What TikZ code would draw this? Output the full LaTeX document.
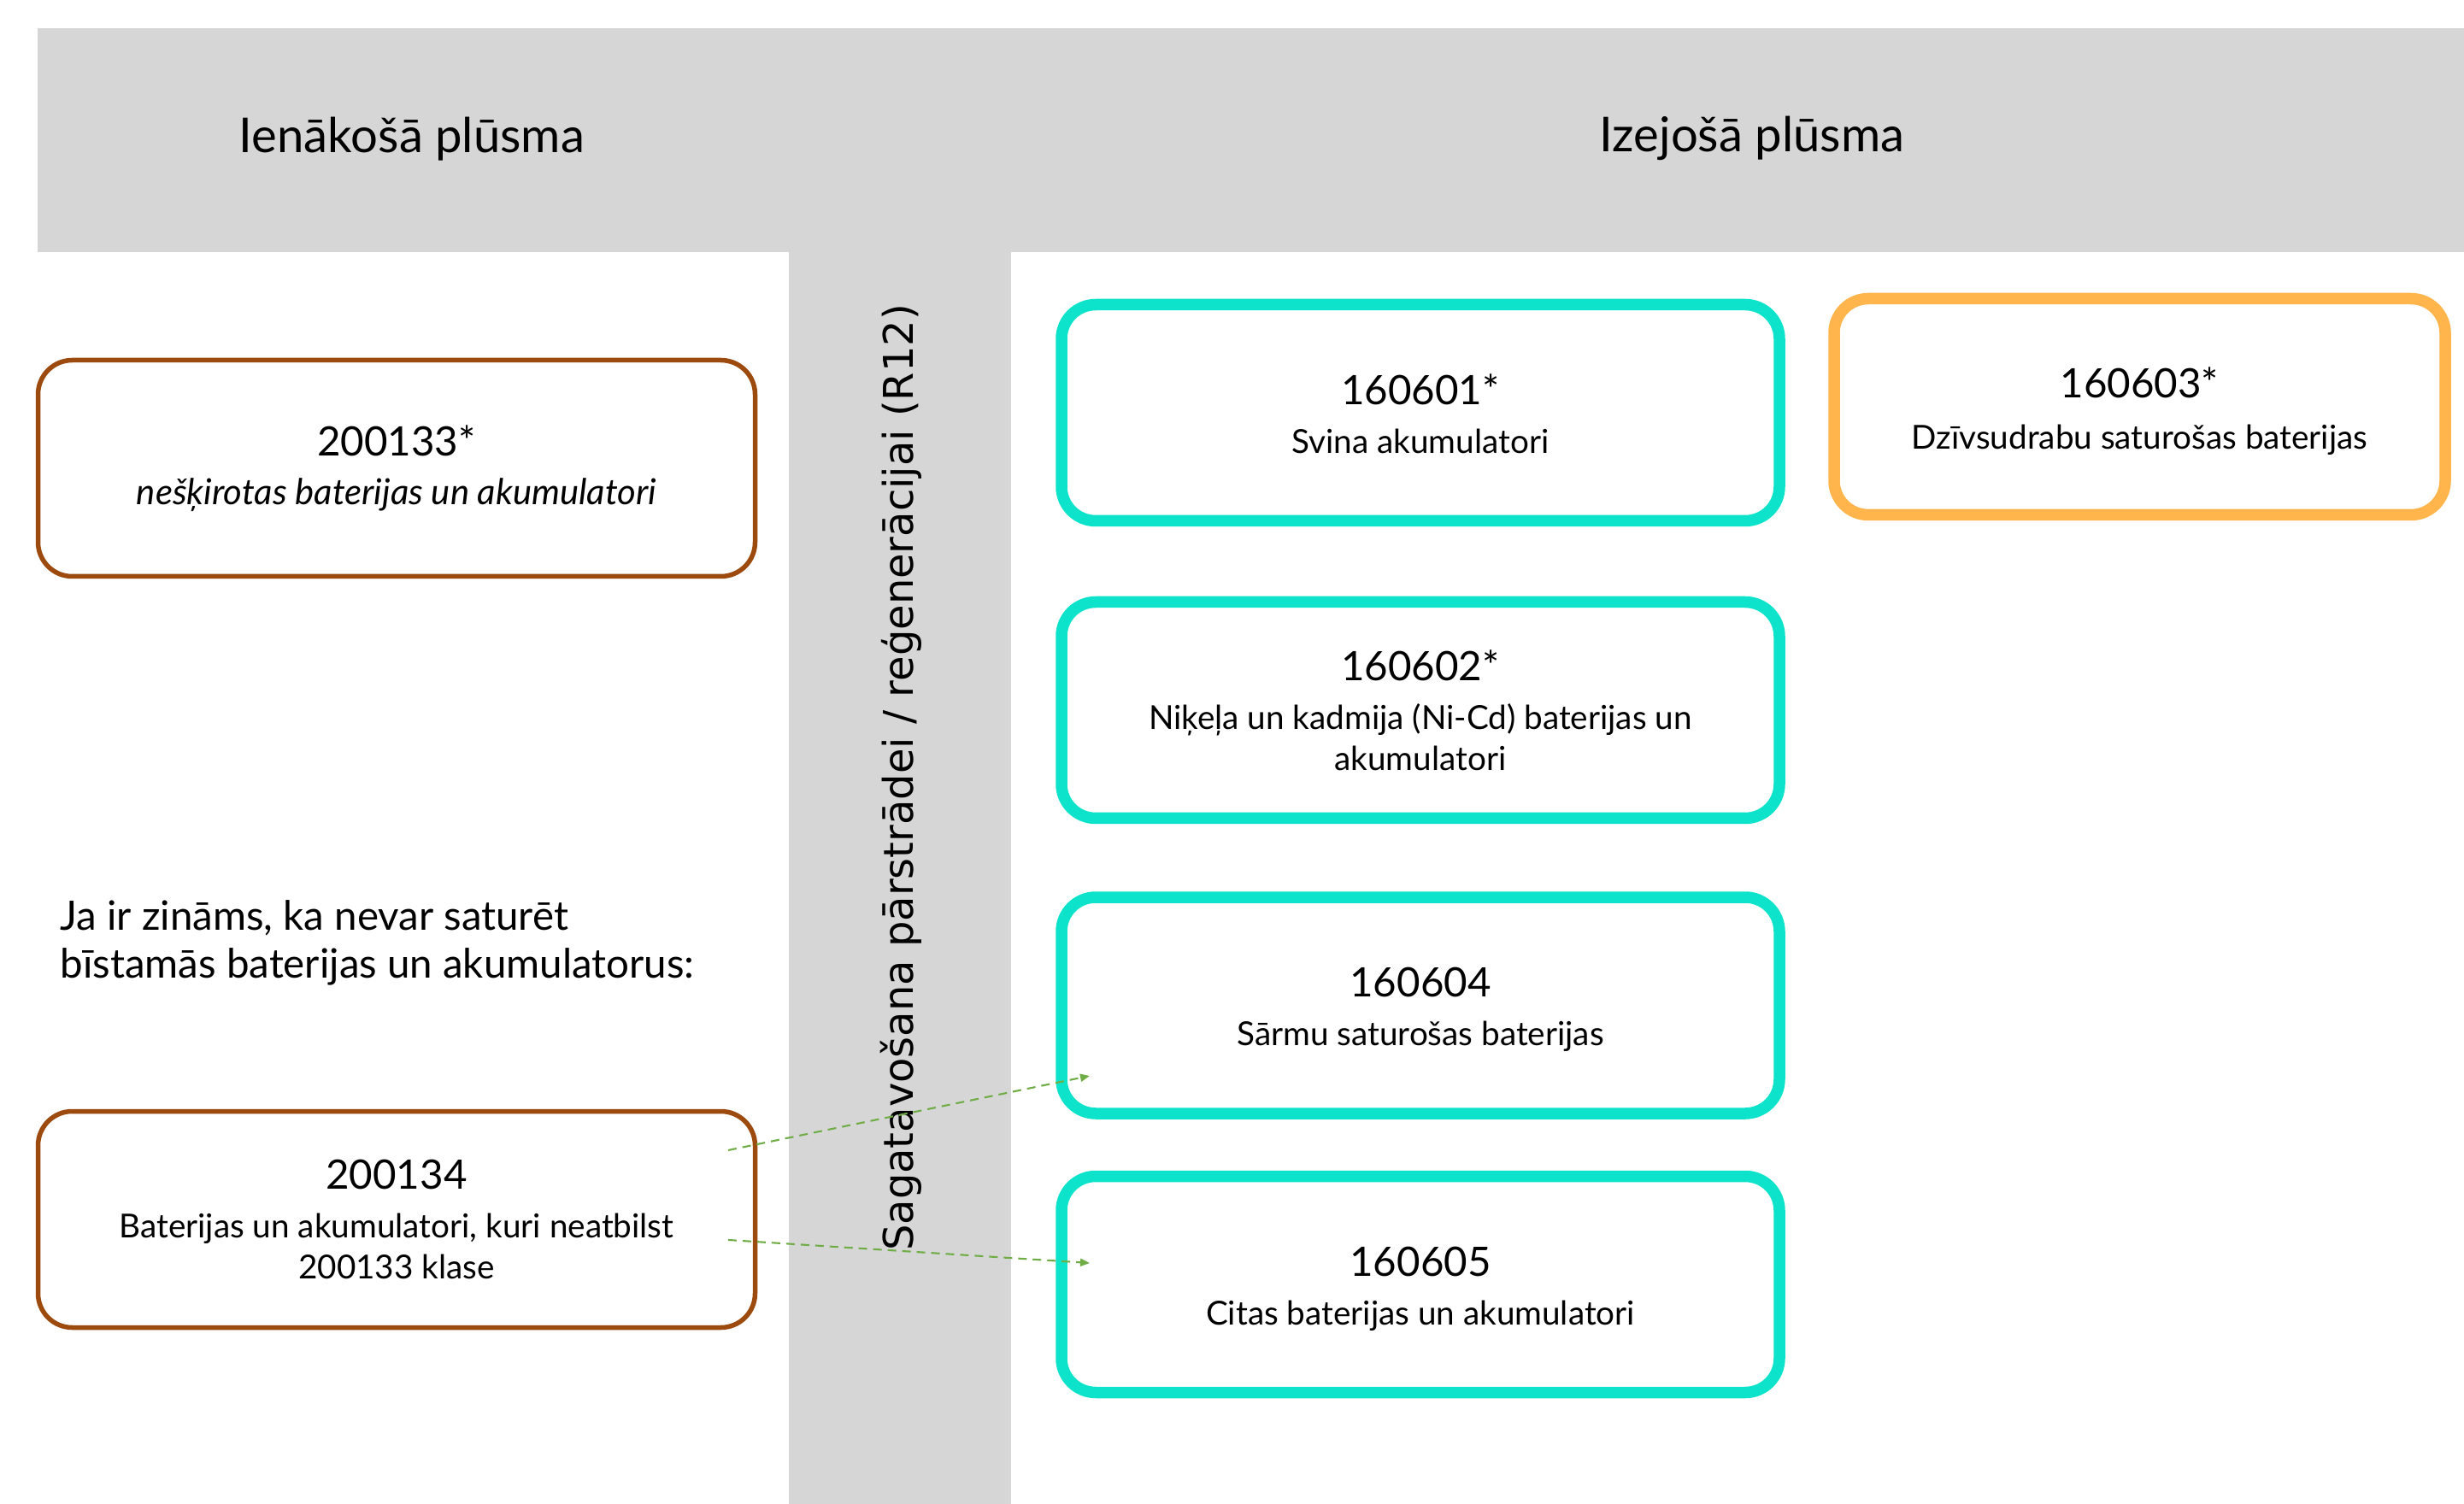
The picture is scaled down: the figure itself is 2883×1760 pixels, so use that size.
\documentclass[tikz,border=0pt]{standalone}
\usepackage{fontspec}
\setmainfont{Lato}
\newfontfamily\sidefont{DejaVu Sans}
\usetikzlibrary{positioning}
\usetikzlibrary{arrows.meta}

\definecolor{bandgray}{HTML}{D6D6D6}
\definecolor{inbrown}{HTML}{9C4A0E}
\definecolor{outteal}{HTML}{0CE3CA}
\definecolor{outorange}{HTML}{FFB54C}
\definecolor{flowgreen}{HTML}{70AD47}

\newcommand{\wastecode}[2][2.6pt]{{\fontsize{13.5pt}{16pt}\selectfont #2}\\[#1]}

\begin{document}
\begin{tikzpicture}[
    x=0.1mm, y=-0.1mm,
    every node/.style={align=center, font=\fontsize{11pt}{13.6pt}\selectfont},
    inbox/.style={draw=inbrown, line width=0.55mm, rounded corners=4mm, minimum width=83.9mm, minimum height=25.3mm},
    outbox/.style={draw=outteal, line width=1.35mm, rounded corners=4mm, minimum width=84mm, minimum height=25.3mm},
    hazbox/.style={draw=outorange, line width=1.35mm, rounded corners=4mm, minimum width=71.5mm, minimum height=25.3mm},
    header/.style={font=\fontsize{16pt}{19pt}\selectfont},
    flow/.style={draw=flowgreen, line width=0.6pt, dash pattern=on 1mm off 0.7mm, -{Triangle[length=1.1mm, width=0.9mm]}}
  ]
  \useasboundingbox (0,0) rectangle (2883,1760);

  % grey band and column
  \fill[bandgray] (44,33) rectangle (2883,295);
  \fill[bandgray] (923,295) rectangle (1183,1760);

  \node[header] (in) at (482,163) {Ienākošā plūsma};
  \node[header] (out) at (2050,162) {Izejošā plūsma};
  \node[rotate=90, font=\sidefont\fontsize{13.65pt}{16pt}\selectfont] (prep) at (1054,910) {Sagatavošana pārstrādei / reģenerācijai (R12)};

  % incoming
  \node[inbox] (w200133) at (464,548) {\wastecode{200133*}{\fontsize{11.9pt}{13.6pt}\selectfont\itshape nešķirotas baterijas un akumulatori}};
  \node[anchor=west, align=left, inner sep=0pt, font=\fontsize{13.5pt}{16pt}\selectfont] (note) at (70,1103) {Ja ir zināms, ka nevar saturēt\\bīstamās baterijas un akumulatorus:};
  \node[inbox] (w200134) at (464,1427) {\wastecode{200134}Baterijas un akumulatori, kuri neatbilst\\200133 klase};

  % outgoing
  \node[outbox] (w160601) at (1662,483) {\wastecode{\rule{0pt}{10.8pt}160601*}Svina akumulatori};
  \node[outbox] (w160602) at (1662,831) {\wastecode{160602*}Niķeļa un kadmija (Ni-Cd) baterijas un\\akumulatori};
  \node[outbox] (w160604) at (1662,1176.5) {\wastecode{\rule{0pt}{12.3pt}160604}Sārmu saturošas baterijas};
  \node[outbox] (w160605) at (1662,1503) {\wastecode{\rule{0pt}{12.6pt}160605}Citas baterijas un akumulatori};
  \node[hazbox] (w160603) at (2503.5,476) {\wastecode[3.6pt]{\rule{0pt}{13.1pt}160603*}Dzīvsudrabu saturošas baterijas};

  \coordinate (from1) at (852,1346);
  \coordinate (to1) at (1275,1259);
  \coordinate (from2) at (852,1451);
  \coordinate (to2) at (1275,1478);
  \draw[flow] (from1) -- (to1);
  \draw[flow] (from2) -- (to2);
\end{tikzpicture}
\end{document}
